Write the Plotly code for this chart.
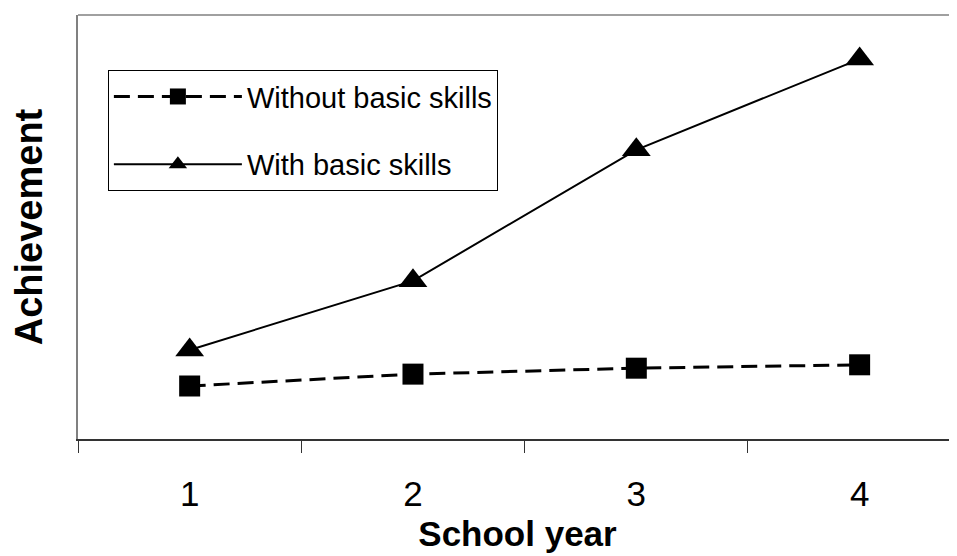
import plotly.graph_objects as go

school_year = [1, 2, 3, 4]
tick_labels = ["1", "2", "3", "4"]
without_basic = [12.5, 15.3, 16.7, 17.5]
with_basic = [21.0, 37.3, 68.2, 89.6]

FONT = "Liberation Sans, Arial, sans-serif"

fig = go.Figure()
fig.add_trace(go.Scatter(
    x=school_year, y=without_basic, name="Without basic skills",
    mode="lines+markers", legendgroup="a",
    line=dict(color="black", width=3, dash="16px,8px"),
    marker=dict(symbol="square", size=21, color="black"),
))
fig.add_trace(go.Scatter(
    x=school_year, y=with_basic, name="With basic skills",
    mode="lines+markers", legendgroup="b",
    line=dict(color="black", width=2),
    marker=dict(symbol="triangle-up", size=25, color="black"),
))

# page body has an 8px default margin, so the figure is sized to fit the window
fig.update_layout(
    width=949, height=548,
    margin=dict(l=70, r=0, t=7, b=117, autoexpand=False),
    paper_bgcolor="white", plot_bgcolor="white",
    font=dict(family=FONT, color="black"),
    showlegend=True,
    legend=dict(
        x=0.034, y=0.870, xanchor="left", yanchor="top",
        bordercolor="black", borderwidth=1, bgcolor="white",
        font=dict(size=29, family=FONT, color="black"),
        tracegroupgap=27, itemwidth=128,
    ),
    xaxis=dict(
        range=[0.5, 4.436], automargin=False,
        tickmode="array", tickvals=school_year, ticktext=tick_labels,
        ticks="outside", ticklen=23, tickcolor="rgba(0,0,0,0)",
        tickfont=dict(size=35, family=FONT),
        minor=dict(tickmode="array", tickvals=[0.5, 1.5, 2.5, 3.5],
                   ticks="outside", ticklen=12, tickcolor="#333", tickwidth=1),
        showline=True, linecolor="#333", linewidth=1.5,
        showgrid=False, zeroline=False,
        title=dict(text="<b>School year</b>", font=dict(size=35, family=FONT), standoff=10),
    ),
    yaxis=dict(
        range=[0, 100], showticklabels=False, ticks="", automargin=False,
        showline=True, linecolor="#808080", linewidth=1.5,
        showgrid=False, zeroline=False,
        title=dict(text="<b>Achievement</b>", font=dict(size=38, family=FONT), standoff=29),
    ),
    shapes=[dict(type="line", xref="paper", yref="paper", x0=0, x1=1, y0=1, y1=1,
                 line=dict(color="#808080", width=1.5))],
)

fig.write_html("out.html")
